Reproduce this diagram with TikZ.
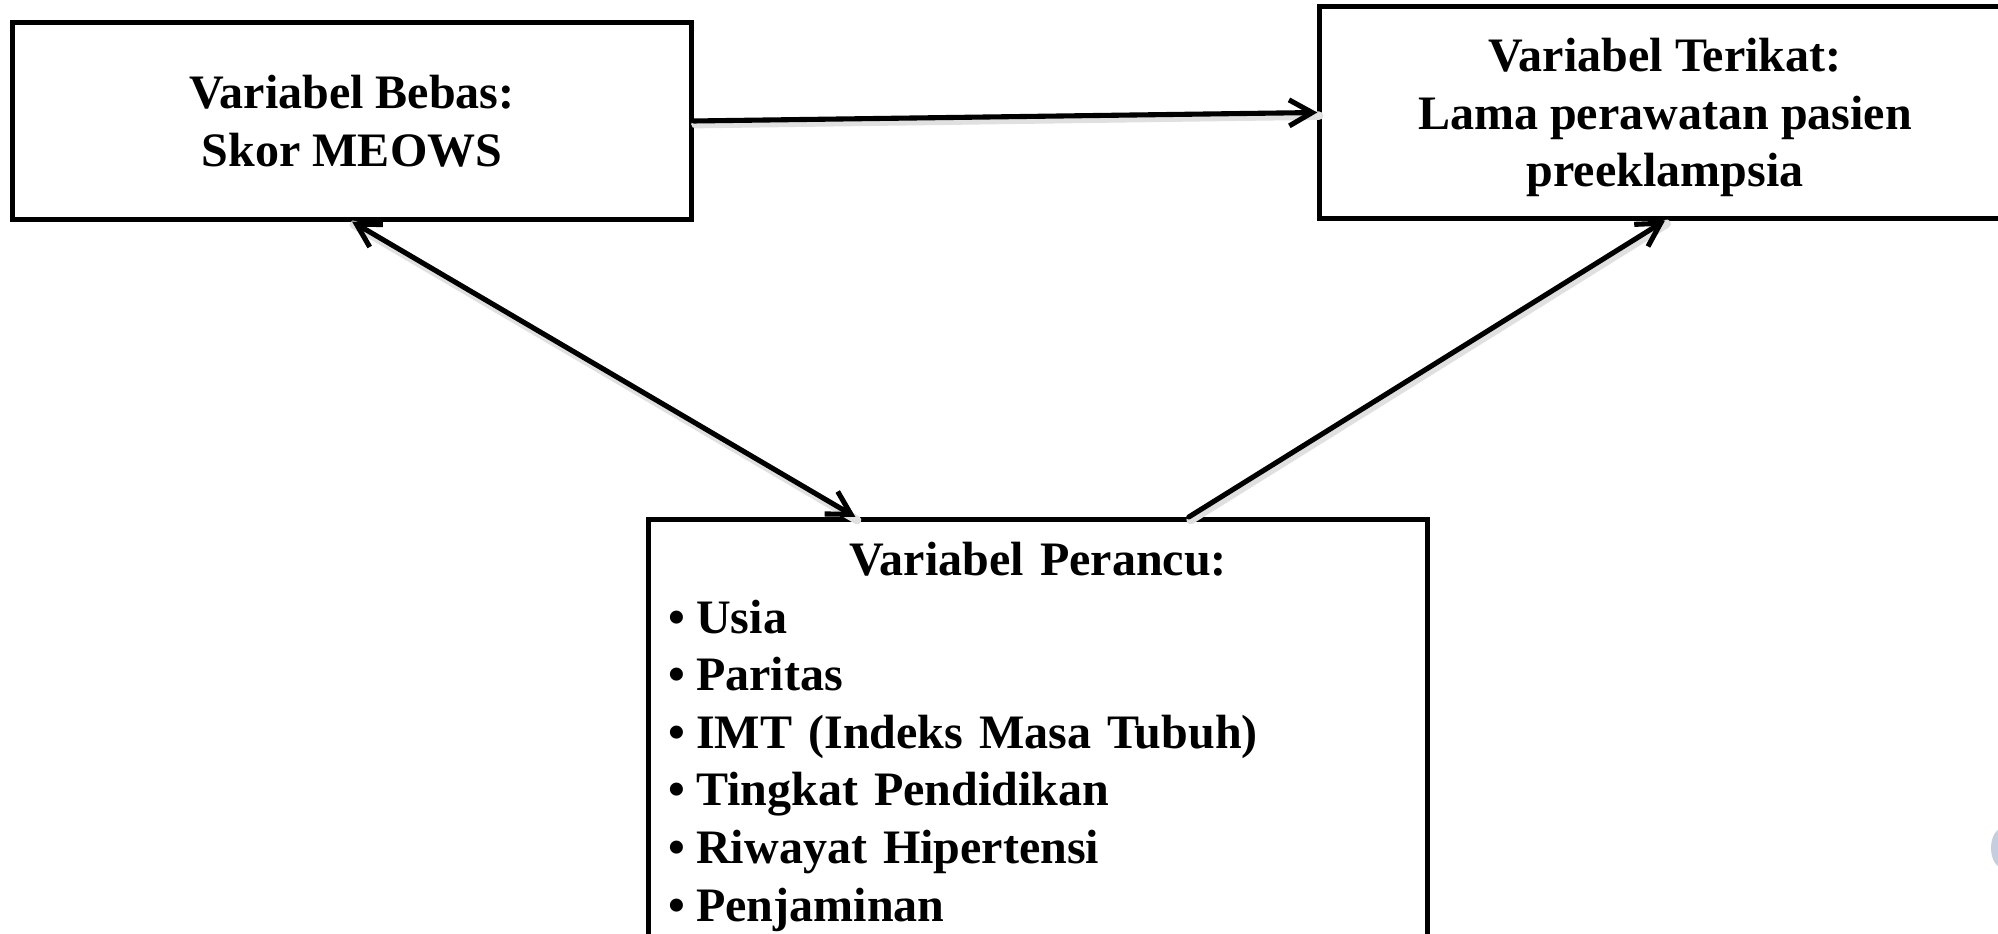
\documentclass[tikz,border=0pt]{standalone}
\usepackage{fontspec}
\setmainfont{Liberation Serif}
\usetikzlibrary{arrows.meta,calc}
\definecolor{blobcol}{RGB}{196,206,222}
\tikzset{
  box/.style={draw=black, line width=1.4pt, fill=white, font=\fontsize{13.66pt}{16.36pt}\selectfont\bfseries},
  conn/.style={line width=1.45pt, draw=black, line cap=round},
  shadowline/.style={line width=2.4pt, draw=black!12, line cap=round, transform canvas={xshift=0.5pt,yshift=-0.9pt}},
  tip/.style={-{Straight Barb[length=2.3mm,width=2.6mm,line width=1.45pt]}},
  dtip/.style={{Straight Barb[length=2.3mm,width=2.6mm,line width=1.45pt]}-{Straight Barb[length=2.3mm,width=2.6mm,line width=1.45pt]}}
}
\newcommand{\bul}{\textbullet\kern0.11cm}
\begin{document}
\begin{tikzpicture}[x=0.01cm,y=-0.01cm]
\useasboundingbox (0,0) rectangle (1998,934);
\clip (0,0) rectangle (1998,934);
\fill[white] (0,0) rectangle (1998,934);
\node[box, minimum width=6.78cm, minimum height=1.96cm, align=center, inner sep=0pt] (b1) at (352,121) {Variabel Bebas:\\Skor MEOWS};
\node[box, minimum width=6.90cm, minimum height=2.11cm, align=center, inner sep=0pt, text depth=0pt] (b2) at (1665,112.5) {Variabel Terikat:\\Lama perawatan pasien\\preeklampsia};
\node[box, anchor=north west, text width=7.39cm, inner xsep=0.20cm, inner ysep=0.23cm] (b3) at (646,517)
 {{\centering Variabel Perancu:\par}\raggedright
  \bul Usia\par
  \bul Paritas\par
  \bul IMT (Indeks Masa Tubuh)\par
  \bul Tingkat Pendidikan\par
  \bul Riwayat Hipertensi\par
  \bul Penjaminan};
\coordinate (b3a) at ($(b3.north west)!0.267!(b3.north east)$);
\coordinate (b3b) at ($(b3.north west)!0.692!(b3.north east)$);
\draw[shadowline] (b1.east) -- (b2.west);
\draw[shadowline] (b1.south) -- (b3a);
\draw[shadowline] (b3b) -- (b2.south);
\draw[conn, tip] (b1.east) -- (b2.west);
\draw[conn, dtip] (b1.south) -- (b3a);
\draw[conn, tip] (b3b) -- (b2.south);
\fill[blobcol] (2003,848) ellipse (12 and 20);
\end{tikzpicture}
\end{document}
